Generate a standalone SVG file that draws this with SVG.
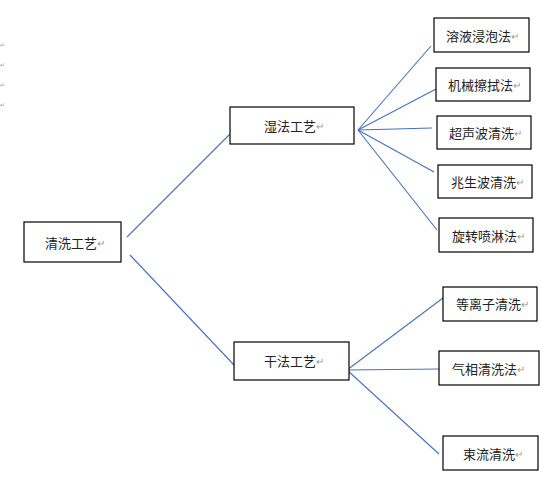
<svg xmlns="http://www.w3.org/2000/svg" width="548" height="489" viewBox="0 0 548 489">
<style>
.box{fill:#fff;stroke:#000;stroke-width:1.2}
.t{font-family:"Noto Sans CJK SC","Liberation Sans",sans-serif;font-size:13px;fill:#222;dominant-baseline:central}
.m{fill:#999;font-size:10px}
.c line{stroke:#4472C4;stroke-width:1.1}
</style>
<rect width="548" height="489" fill="#fff"/>
<g id="marks" font-family="DejaVu Sans,sans-serif" font-size="6">
<text fill="#999" x="0" y="47">↵</text>
<text fill="#999" x="0" y="67">↵</text>
<text fill="#999" x="0" y="87">↵</text>
<text fill="#999" x="0" y="107">↵</text>
</g>
<g class="c" id="connectors">
<line x1="127" y1="237" x2="230" y2="134"/>
<line x1="130" y1="255" x2="234" y2="365"/>
<line x1="358" y1="130" x2="431" y2="46"/>
<line x1="358" y1="130" x2="436" y2="89"/>
<line x1="358" y1="130" x2="432" y2="128"/>
<line x1="358" y1="130" x2="434" y2="172"/>
<line x1="358" y1="130" x2="437" y2="230"/>
<line x1="347" y1="370" x2="443" y2="298"/>
<line x1="347" y1="370" x2="440" y2="369"/>
<line x1="347" y1="370" x2="439" y2="454"/>
</g>
<g id="n-root"><rect class="box" x="24" y="222" width="97" height="40"/><text class="t" x="45" y="242">清洗工艺<tspan class="m">↵</tspan></text></g>
<g id="n-wet"><rect class="box" x="230" y="107" width="124" height="37"/><text class="t" x="264" y="125">湿法工艺<tspan class="m">↵</tspan></text></g>
<g id="n-dry"><rect class="box" x="234" y="342" width="115" height="38"/><text class="t" x="264" y="360">干法工艺<tspan class="m">↵</tspan></text></g>
<g id="n-w1"><rect class="box" x="434" y="18" width="95" height="34"/><text class="t" x="446" y="35">溶液浸泡法<tspan class="m">↵</tspan></text></g>
<g id="n-w2"><rect class="box" x="436" y="68" width="94" height="33"/><text class="t" x="448" y="84">机械擦拭法<tspan class="m">↵</tspan></text></g>
<g id="n-w3"><rect class="box" x="437" y="116" width="94" height="33"/><text class="t" x="449" y="132">超声波清洗<tspan class="m">↵</tspan></text></g>
<g id="n-w4"><rect class="box" x="438" y="165" width="94" height="33"/><text class="t" x="451" y="181">兆生波清洗<tspan class="m">↵</tspan></text></g>
<g id="n-w5"><rect class="box" x="439" y="218" width="94" height="34"/><text class="t" x="452" y="235">旋转喷淋法<tspan class="m">↵</tspan></text></g>
<g id="n-d1"><rect class="box" x="443" y="287" width="94" height="34"/><text class="t" x="456" y="303">等离子清洗<tspan class="m">↵</tspan></text></g>
<g id="n-d2"><rect class="box" x="439" y="351" width="100" height="34"/><text class="t" x="452" y="368">气相清洗法<tspan class="m">↵</tspan></text></g>
<g id="n-d3"><rect class="box" x="443" y="436" width="95" height="34"/><text class="t" x="463" y="453">束流清洗<tspan class="m">↵</tspan></text></g>
</svg>
